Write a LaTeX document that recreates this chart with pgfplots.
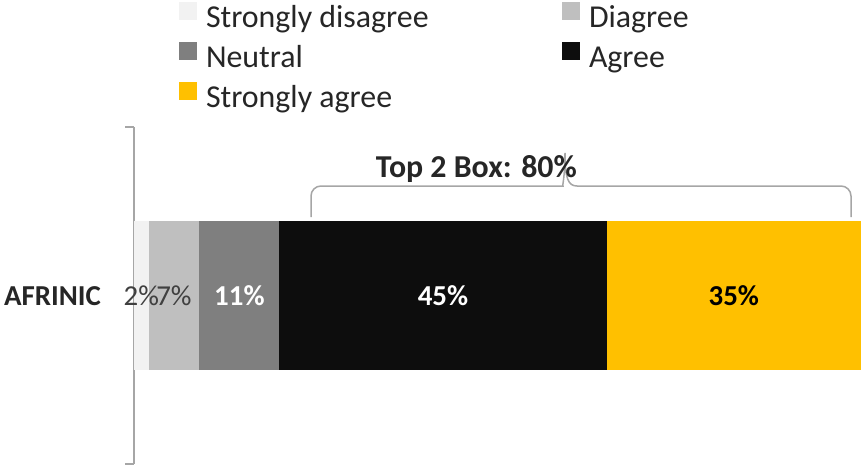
\documentclass[border=0pt]{standalone}
\usepackage{pgfplots}
\pgfplotsset{compat=1.18}
\usepackage{fontspec}
\setmainfont{Carlito}
\definecolor{c1}{HTML}{F2F2F2}
\definecolor{c2}{HTML}{BFBFBF}
\definecolor{c3}{HTML}{7F7F7F}
\definecolor{c4}{HTML}{0D0D0D}
\definecolor{c5}{HTML}{FFC000}
\definecolor{axgray}{HTML}{A6A6A6}
\definecolor{txt}{HTML}{262626}
\definecolor{lbl}{HTML}{404040}
\begin{document}
\begin{tikzpicture}
\begin{axis}[
  scale only axis, width=727bp, height=337bp,
  xmin=0, xmax=100, ymin=0, ymax=1,
  xbar stacked, bar width=149bp,
  axis x line=none, axis y line*=left,
  ytick={0,1}, yticklabels={}, tick align=outside, major tick length=9bp,
  y axis line style={color=axgray, line width=1.5bp},
  ytick style={color=axgray, line width=1.5bp},
  point meta=explicit symbolic,
  nodes near coords={\pgfplotspointmeta\%},
  every node near coord/.append style={anchor=center, inner sep=0pt, font=\fontsize{29}{34}\selectfont},
  legend columns=2, legend cell align=left,
  legend style={draw=none, fill=none, inner sep=0pt, outer sep=0pt,
    at={(0.0619,1.3709)}, anchor=north west,
    font=\fontsize{32}{38}\selectfont, text=txt,
    nodes={inner sep=0pt, text height=24bp, text depth=8bp},
    row sep=7bp,
    /tikz/every odd column/.append style={column sep=9bp},
    /tikz/every even column/.append style={column sep=0bp}},
  every axis plot post/.append style={draw=none},
  legend image code/.code={\fill[#1] (0bp,-1bp) rectangle (18bp,17bp);},
]
\addplot[fill=c1, every node near coord/.append style={text=lbl}] coordinates {(2,0.5) [2]};
\addplot[fill=c2, every node near coord/.append style={text=lbl}] coordinates {(7,0.5) [7]};
\addplot[fill=c3, every node near coord/.append style={text=white, font=\fontsize{29}{34}\selectfont\bfseries}] coordinates {(11,0.5) [11]};
\addplot[fill=c4, every node near coord/.append style={text=white, font=\fontsize{29}{34}\selectfont\bfseries}] coordinates {(45,0.5) [45]};
\addplot[fill=c5, every node near coord/.append style={text=black, font=\fontsize{29}{34}\selectfont\bfseries}] coordinates {(35,0.5) [35]};
\legend{{\makebox[356bp][l]{Strongly disagree}},{Diagree},{\makebox[356bp][l]{Neutral}},{Agree},{\makebox[356bp][l]{Strongly agree}}}
\coordinate (O) at (axis cs:0,0);
\end{axis}
\begin{scope}[shift={(O)}, x=1bp, y=-1bp, shift={(-134,-464)}]
  \draw[axgray, line width=1.5bp, rounded corners=10bp] (311,217) -- (311,186) -- (553,186) [sharp corners] .. controls (562,186) and (565,178) .. (565,153) .. controls (565,178) and (568,186) .. (577,186) [rounded corners=10bp] -- (851,186) -- (851,217);
  \node[anchor=base east, inner sep=0pt, text=txt, font=\fontsize{32}{38}\selectfont\bfseries] at (577,177) {Top 2 Box: 80\%};
  \node[anchor=east, inner sep=0pt, text=txt, font=\fontsize{29}{34}\selectfont\bfseries] at (101,296) {AFRINIC};
  \path (0,0) rectangle (865,466);
\end{scope}
\end{tikzpicture}
\end{document}
